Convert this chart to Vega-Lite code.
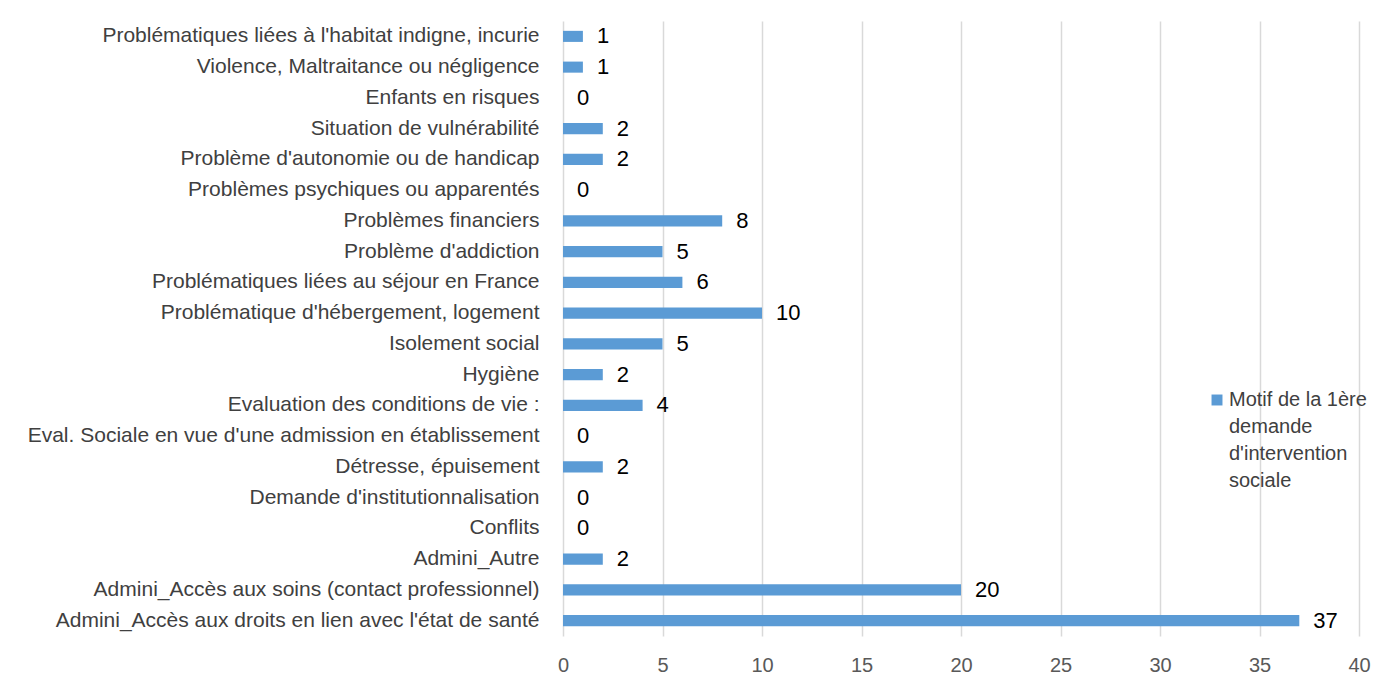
{
  "$schema": "https://vega.github.io/schema/vega-lite/v6.json",
  "width": 796,
  "height": 615,
  "autosize": "none",
  "padding": {"left": 563, "top": 21, "right": 39, "bottom": 62},
  "background": "white",
  "config": {
    "view": {"stroke": null},
    "font": "Liberation Sans",
    "style": {"guide-label": {"lineHeight": 27}}
  },
  "data": {
    "values": [
      {"motif": "Problématiques liées à l'habitat indigne, incurie", "n": 1, "serie": "Motif de la 1ère demande d'intervention sociale"},
      {"motif": "Violence, Maltraitance ou négligence ", "n": 1, "serie": "Motif de la 1ère demande d'intervention sociale"},
      {"motif": "Enfants en risques", "n": 0, "serie": "Motif de la 1ère demande d'intervention sociale"},
      {"motif": "Situation de vulnérabilité", "n": 2, "serie": "Motif de la 1ère demande d'intervention sociale"},
      {"motif": "Problème d'autonomie ou de handicap", "n": 2, "serie": "Motif de la 1ère demande d'intervention sociale"},
      {"motif": "Problèmes psychiques ou apparentés", "n": 0, "serie": "Motif de la 1ère demande d'intervention sociale"},
      {"motif": "Problèmes financiers", "n": 8, "serie": "Motif de la 1ère demande d'intervention sociale"},
      {"motif": "Problème d'addiction", "n": 5, "serie": "Motif de la 1ère demande d'intervention sociale"},
      {"motif": "Problématiques liées au séjour en France", "n": 6, "serie": "Motif de la 1ère demande d'intervention sociale"},
      {"motif": "Problématique d'hébergement, logement", "n": 10, "serie": "Motif de la 1ère demande d'intervention sociale"},
      {"motif": "Isolement social", "n": 5, "serie": "Motif de la 1ère demande d'intervention sociale"},
      {"motif": "Hygiène", "n": 2, "serie": "Motif de la 1ère demande d'intervention sociale"},
      {"motif": "Evaluation des conditions de vie :", "n": 4, "serie": "Motif de la 1ère demande d'intervention sociale"},
      {"motif": "Eval. Sociale en vue d'une admission en établissement", "n": 0, "serie": "Motif de la 1ère demande d'intervention sociale"},
      {"motif": "Détresse, épuisement", "n": 2, "serie": "Motif de la 1ère demande d'intervention sociale"},
      {"motif": "Demande d'institutionnalisation", "n": 0, "serie": "Motif de la 1ère demande d'intervention sociale"},
      {"motif": "Conflits", "n": 0, "serie": "Motif de la 1ère demande d'intervention sociale"},
      {"motif": "Admini_Autre", "n": 2, "serie": "Motif de la 1ère demande d'intervention sociale"},
      {"motif": "Admini_Accès aux soins (contact professionnel)", "n": 20, "serie": "Motif de la 1ère demande d'intervention sociale"},
      {"motif": "Admini_Accès aux droits en lien avec l'état de santé", "n": 37, "serie": "Motif de la 1ère demande d'intervention sociale"}
    ]
  },
  "encoding": {
    "y": {
      "field": "motif",
      "type": "nominal",
      "sort": null,
      "title": null,
      "scale": {"paddingInner": 0.64, "paddingOuter": 0.32},
      "axis": {
        "domain": false,
        "ticks": false,
        "grid": false,
        "labelPadding": 24,
        "labelFontSize": 21,
        "labelColor": "#404040",
        "labelLimit": 600
      }
    },
    "x": {
      "field": "n",
      "type": "quantitative",
      "title": null,
      "scale": {"domain": [0, 40], "nice": false},
      "axis": {
        "values": [0, 5, 10, 15, 20, 25, 30, 35, 40],
        "grid": true,
        "gridColor": "#d9d9d9",
        "gridWidth": 1.5,
        "domain": false,
        "ticks": false,
        "labelPadding": 19,
        "labelFontSize": 20,
        "labelColor": "#595959",
        "labelFlush": false
      }
    }
  },
  "layer": [
    {
      "mark": {"type": "bar", "color": "#5b9bd5"},
      "encoding": {
        "color": {
          "field": "serie",
          "type": "nominal",
          "scale": {"range": ["#5b9bd5"]},
          "legend": {
            "title": null,
            "orient": "none",
            "legendX": 644,
            "legendY": 369,
            "symbolType": "square",
            "symbolSize": 120,
            "symbolStrokeWidth": 0,
            "labelFontSize": 20,
            "labelColor": "#404040",
            "labelLimit": 300,
            "labelOffset": 2,
            "labelExpr": "['Motif de la 1ère', 'demande', \"d'intervention\", 'sociale']"
          }
        }
      }
    },
    {
      "mark": {"type": "text", "align": "left", "dx": 14, "fontSize": 22, "color": "#000000"},
      "encoding": {
        "text": {"field": "n", "type": "quantitative"}
      }
    }
  ]
}
